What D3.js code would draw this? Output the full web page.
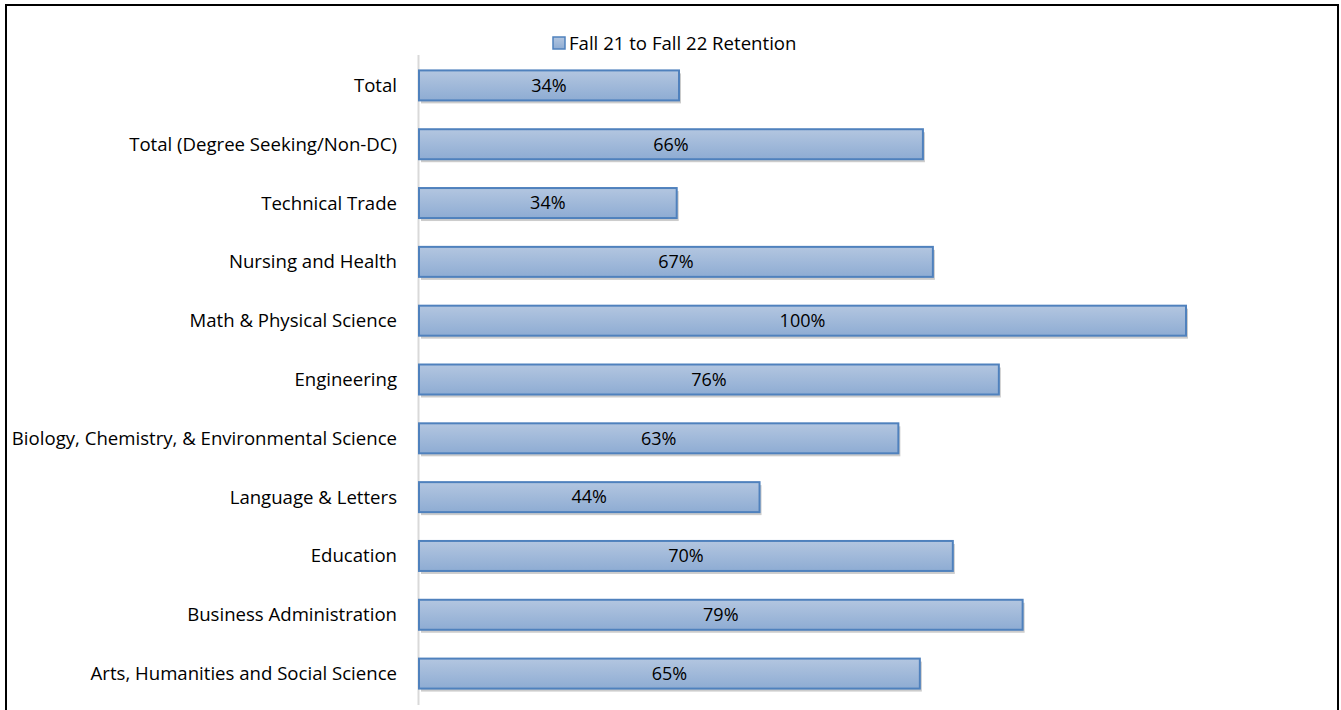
<!DOCTYPE html>
<meta charset="utf-8">
<style>
body { margin: 0; background: #fff; }
text { font-family: "Open Sans", Lato, sans-serif; fill: #000; }
.label { font-size: 18.6px; }
.value { font-size: 18px; }
.legend { font-size: 18.6px; }
</style>
<body>
<script src="https://cdn.jsdelivr.net/npm/d3@7"></script>
<script>

var categories = ["Total", "Total (Degree Seeking/Non-DC)", "Technical Trade", "Nursing and Health",
  "Math & Physical Science", "Engineering", "Biology, Chemistry, & Environmental Science",
  "Language & Letters", "Education", "Business Administration", "Arts, Humanities and Social Science"];
// retention shares (labels are rounded)
var values = [0.339, 0.657, 0.336, 0.670, 1.0, 0.756, 0.625, 0.444, 0.696, 0.787, 0.653];
var seriesName = "Fall 21 to Fall 22 Retention";

var width = 1341, height = 710;
var pct = d3.format(".0%");

var svg = d3.select("body").append("svg")
    .attr("width", width)
    .attr("height", height);

var defs = svg.append("defs");
var grad = defs.append("linearGradient")
    .attr("id", "barGrad").attr("x1", 0).attr("y1", 0).attr("x2", 0).attr("y2", 1);
grad.append("stop").attr("offset", "0%").attr("stop-color", "#b3c6e0");
grad.append("stop").attr("offset", "100%").attr("stop-color", "#8eacd3");

// outer frame
svg.append("rect")
    .attr("x", 6).attr("y", 5)
    .attr("width", 1332).attr("height", 720)
    .attr("fill", "none").attr("stroke", "#000").attr("stroke-width", 2);

var x = d3.scaleLinear().domain([0, 1]).range([419, 1186]);
var y = d3.scaleBand().domain(categories).range([56, 703]).paddingInner(0.49).paddingOuter(0.245);

// category axis line
svg.append("line")
    .attr("x1", 418.5).attr("x2", 418.5)
    .attr("y1", 55).attr("y2", 705)
    .attr("stroke", "#d9d9d9").attr("stroke-width", 2);

var bars = svg.append("g").selectAll("g")
    .data(categories)
    .enter().append("g");

// shadow
bars.append("rect")
    .attr("x", x(0) + 2)
    .attr("y", function(d) { return y(d) + 3; })
    .attr("width", function(d, i) { return x(values[i]) - x(0); })
    .attr("height", y.bandwidth())
    .attr("fill", "#000")
    .attr("opacity", 0.2);

bars.append("rect")
    .attr("x", x(0))
    .attr("y", function(d) { return y(d); })
    .attr("width", function(d, i) { return x(values[i]) - x(0); })
    .attr("height", y.bandwidth())
    .attr("fill", "url(#barGrad)")
    .attr("stroke", "#4f81bd")
    .attr("stroke-width", 2);

bars.append("text")
    .attr("class", "value")
    .attr("x", function(d, i) { return (x(0) + x(values[i])) / 2; })
    .attr("y", function(d) { return y(d) + y.bandwidth() / 2; })
    .attr("dy", "0.35em")
    .attr("text-anchor", "middle")
    .text(function(d, i) { return pct(values[i]); });

svg.append("g").selectAll("text")
    .data(categories)
    .enter().append("text")
    .attr("class", "label")
    .attr("x", 397)
    .attr("y", function(d) { return y(d) + y.bandwidth() / 2; })
    .attr("dy", "0.35em")
    .attr("text-anchor", "end")
    .text(function(d) { return d; });

// legend
var legend = svg.append("g").attr("transform", "translate(553,37)");
legend.append("rect")
    .attr("width", 12).attr("height", 12)
    .attr("fill", "url(#barGrad)")
    .attr("stroke", "#4f81bd").attr("stroke-width", 1.5);
legend.append("text")
    .attr("class", "legend")
    .attr("x", 16).attr("y", 6)
    .attr("dy", "0.35em")
    .text(seriesName);

</script>
</body>
</html>
